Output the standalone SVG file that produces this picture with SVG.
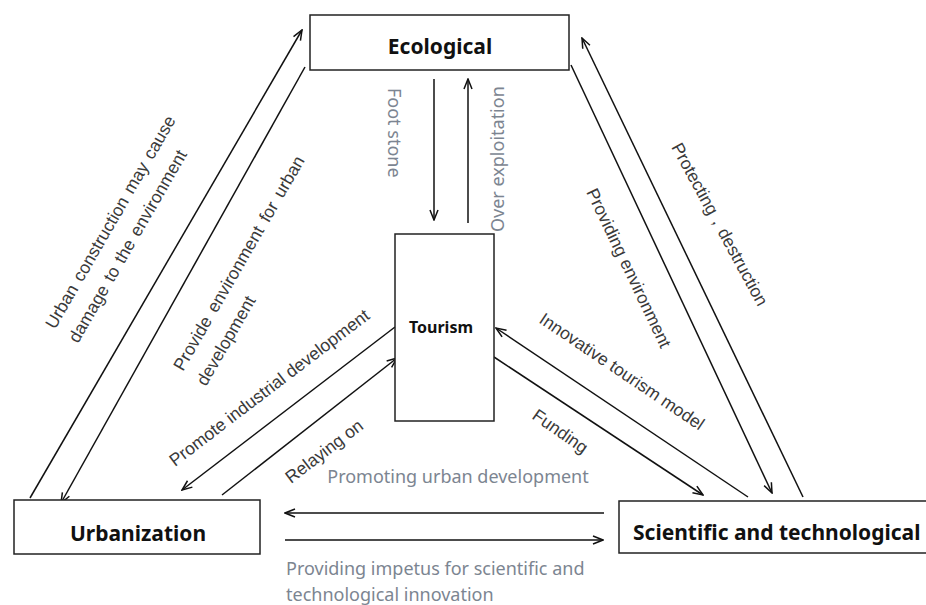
<svg xmlns="http://www.w3.org/2000/svg" width="926" height="605" viewBox="0 0 926 605">
<style>
.box{fill:#fff;stroke:#222;stroke-width:1.5}
.nt{font-family:"Noto Sans","Open Sans",sans-serif;font-weight:bold;fill:#111;text-anchor:middle}
.ln{stroke:#111;stroke-width:1.5;fill:none}
.arr{marker-end:url(#ah)}
.lb{font-family:"Liberation Sans",Arial,sans-serif;font-size:17.5px;fill:#3a3a3a}
.gl{font-family:"Noto Sans","Open Sans",sans-serif;font-size:18px;fill:#7c8591}
</style>
<defs>
<marker id="ah" viewBox="0 0 12 10" refX="11" refY="5" markerWidth="12" markerHeight="10" markerUnits="userSpaceOnUse" orient="auto">
<path d="M1,1 L11,5 L1,9" fill="none" stroke="#111" stroke-width="1.5"/>
</marker>
</defs>
<rect width="926" height="605" fill="#fff"/>

<g id="connectors">
<line class="ln arr" x1="30" y1="498" x2="302" y2="30"/>
<line class="ln arr" x1="305" y1="67" x2="61" y2="503"/>
<line class="ln arr" x1="434" y1="79" x2="434" y2="220"/>
<line class="ln arr" x1="468" y1="223" x2="468" y2="79"/>
<line class="ln arr" x1="803" y1="497" x2="582" y2="38"/>
<line class="ln arr" x1="571" y1="65" x2="772" y2="493"/>
<line class="ln arr" x1="395" y1="327" x2="182" y2="490"/>
<line class="ln arr" x1="222" y1="495" x2="397" y2="358"/>
<line class="ln arr" x1="748" y1="497" x2="496" y2="328"/>
<line class="ln arr" x1="494" y1="357" x2="703" y2="495"/>
<line class="ln arr" x1="604" y1="513" x2="285" y2="513"/>
<line class="ln arr" x1="285" y1="540" x2="603" y2="540"/>
</g>

<g id="labels">
<text class="lb" word-spacing="2" transform="translate(55,330) rotate(-60)">Urban construction may cause</text>
<text class="lb" word-spacing="2" transform="translate(78,344) rotate(-60)">damage to the environment</text>
<text class="lb" word-spacing="3" transform="translate(183,372) rotate(-60)">Provide environment for urban</text>
<text class="lb" transform="translate(206,387) rotate(-60)">development</text>
<text class="lb" transform="translate(175,467) rotate(-37.3)">Promote industrial development</text>
<text class="lb" transform="translate(291,484) rotate(-37.3)">Relaying on</text>
<text class="lb" transform="translate(538,322) rotate(34)">Innovative tourism model</text>
<text class="lb" transform="translate(531,418) rotate(35)">Funding</text>
<text class="lb" transform="translate(586,192) rotate(64.5)">Providing environment</text>
<text class="lb" transform="translate(671,147) rotate(61.5)">Protecting，destruction</text>
<text class="gl" transform="translate(388,88) rotate(90)">Foot stone</text>
<text class="gl" transform="translate(504,232) rotate(-90)">Over exploitation</text>
<text class="gl" x="458" y="483" text-anchor="middle">Promoting urban development</text>
<text class="gl" x="286" y="575">Providing impetus for scientific and</text>
<text class="gl" x="286" y="601">technological innovation</text>
</g>

<g id="ecological">
<rect class="box" x="310" y="15" width="259" height="55"/>
<text class="nt" x="440" y="54" font-size="21">Ecological</text>
</g>
<g id="tourism">
<rect class="box" x="395" y="234" width="99" height="187"/>
<text class="nt" x="441" y="333" font-size="16">Tourism</text>
</g>
<g id="urbanization">
<rect class="box" x="14" y="500" width="246" height="54"/>
<text class="nt" x="138" y="541" font-size="21">Urbanization</text>
</g>
<g id="scientific">
<rect class="box" x="619" y="501" width="330" height="52"/>
<text class="nt" x="633" y="540" font-size="21" style="text-anchor:start">Scientific and technological</text>
</g>
</svg>
